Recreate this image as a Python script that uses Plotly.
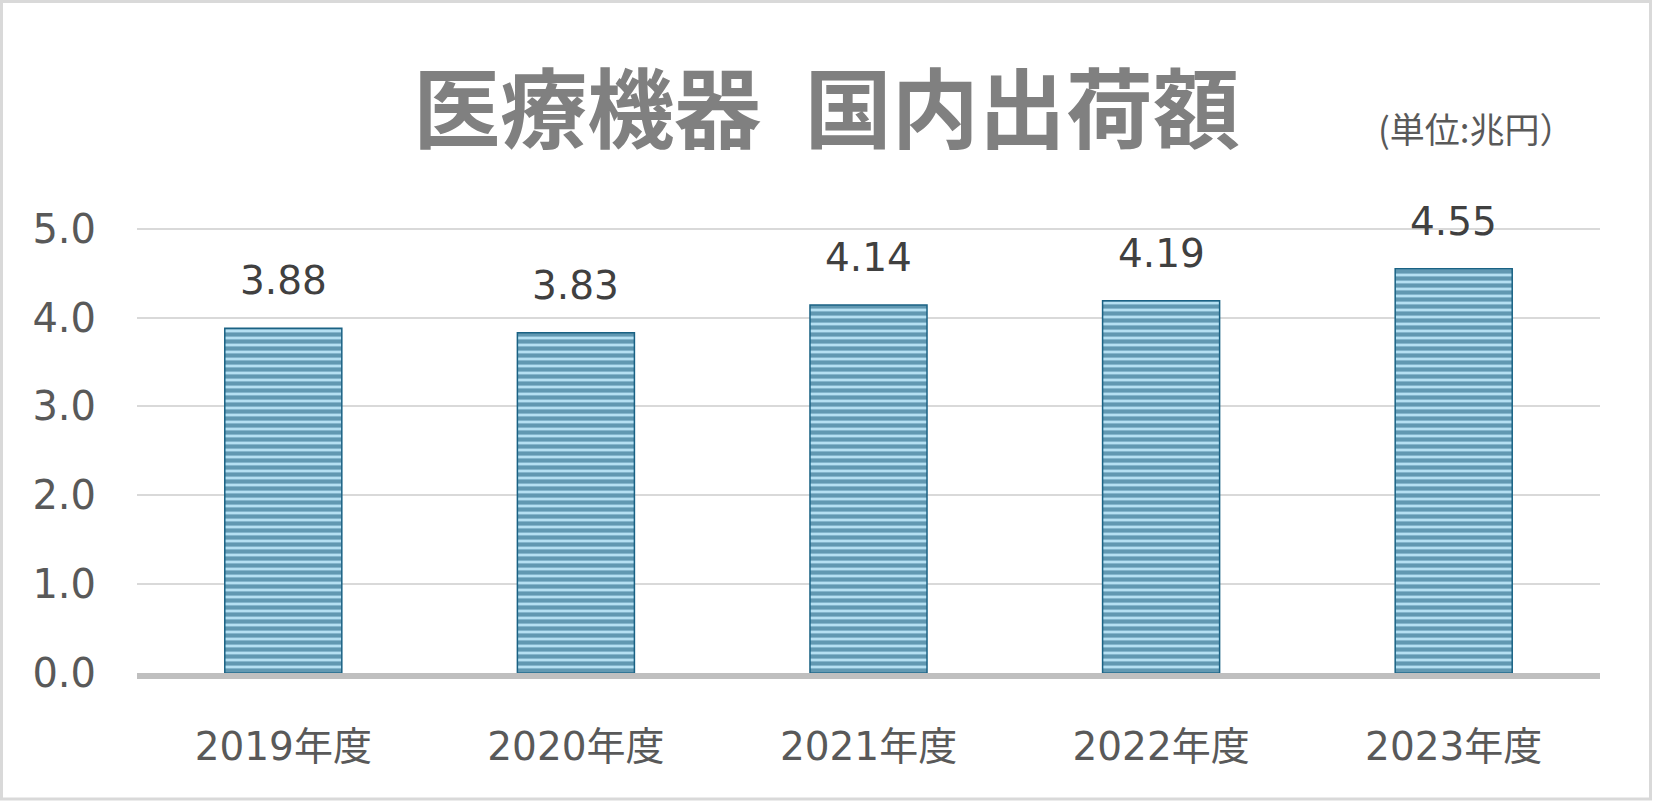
import plotly.graph_objects as go


# -------------------------------------------------
# Data
# -------------------------------------------------

years = ["2019年度", "2020年度", "2021年度", "2022年度", "2023年度"]
shipments = [3.88, 3.83, 4.14, 4.19, 4.55]
y_ticks = [0, 1, 2, 3, 4, 5]
y_tick_labels = ["0.0", "1.0", "2.0", "3.0", "4.0", "5.0"]

title_text = "医療機器\u2002国内出荷額"
unit_text = "(単位:兆円）"


# -------------------------------------------------
# Layout sizes
# -------------------------------------------------

W, H = 1653, 803
ML, MR, MT, MB = 137, 53, 226, 130
PW = W - ML - MR
PH = H - MT - MB

TEXT_FONT = "DejaVu Sans, Noto Sans CJK JP, sans-serif"
CJK_FONT = "Noto Sans CJK JP, sans-serif"


# -------------------------------------------------
# Figure
# -------------------------------------------------

fig = go.Figure()

fig.add_trace(
    go.Bar(
        x=years,
        y=shipments,
        marker=dict(
            color="#b5e0f2",
            line=dict(color="#1a6284", width=1.5),
            pattern=dict(
                shape="-",
                fgcolor="#0d4f70",
                bgcolor="#b5e0f2",
                size=7,
                solidity=0.6,
            ),
        ),
        hoverinfo="x+y",
    )
)

# value labels above bars
for yr, val in zip(years, shipments):
    fig.add_annotation(
        x=yr,
        y=val,
        text=f"{val:.2f}",
        showarrow=False,
        yanchor="bottom",
        yshift=23,
        font=dict(family=TEXT_FONT, size=39, color="#404040"),
    )

# unit label
fig.add_annotation(
    x=(1376 - ML) / PW,
    y=(H - MB - 127) / PH,
    xref="paper",
    yref="paper",
    xanchor="left",
    yanchor="middle",
    text=unit_text,
    showarrow=False,
    font=dict(family=CJK_FONT, size=35, color="#595959"),
)

# outer border
fig.add_shape(
    type="rect",
    xref="paper",
    yref="paper",
    x0=(1.5 - ML) / PW,
    x1=(W - 2.5 - ML) / PW,
    y0=(H - MB - (H - 4)) / PH,
    y1=(H - MB - 1.5) / PH,
    line=dict(color="#d9d9d9", width=3),
    layer="below",
)

fig.update_layout(
    width=W,
    height=H,
    margin=dict(l=ML, r=MR, t=MT, b=MB),
    paper_bgcolor="white",
    plot_bgcolor="white",
    bargap=0.6,
    showlegend=False,
    title=dict(
        text=title_text,
        x=0.5,
        xanchor="center",
        y=1 - 112 / H,
        yanchor="middle",
        font=dict(family=CJK_FONT, size=87, color="#808080", weight="bold"),
    ),
    xaxis=dict(
        showline=True,
        linecolor="#bfbfbf",
        linewidth=6,
        showgrid=False,
        ticks="",
        ticklabelstandoff=34,
        tickfont=dict(family=TEXT_FONT, size=39, color="#595959"),
    ),
    yaxis=dict(
        # a little headroom so the 5.0 gridline is not clipped at the edge
        range=[0, 5.03],
        tickvals=y_ticks,
        ticktext=y_tick_labels,
        showgrid=True,
        gridcolor="#d9d9d9",
        gridwidth=2,
        zeroline=False,
        showline=False,
        ticks="",
        ticklabelstandoff=40,
        tickfont=dict(family=TEXT_FONT, size=40, color="#595959"),
    ),
)

fig.write_html(
    "out.html",
    config={"displayModeBar": False},
    post_script="document.body.style.margin='0';",
)
